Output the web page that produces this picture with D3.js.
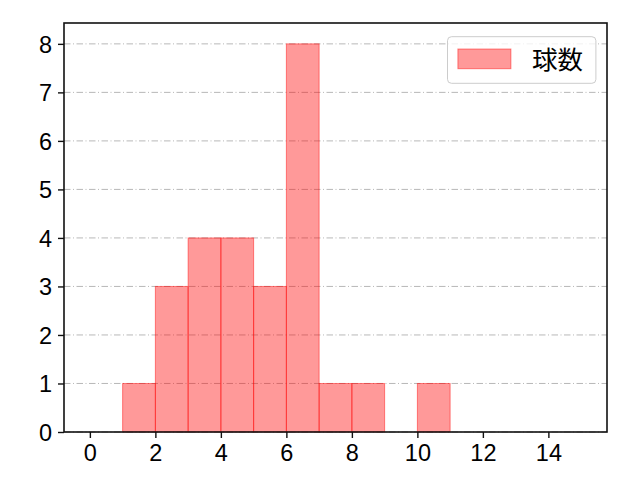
<!DOCTYPE html>
<html>
<head>
<meta charset="utf-8">
<script src="https://cdn.jsdelivr.net/npm/d3@7"></script>
<style>
  body { margin: 0; background: #fff; }
  text { font-family: "Liberation Sans", sans-serif; }
</style>
</head>
<body>
<svg id="chart" width="640" height="480"></svg>
<script>
// histogram bins (left edge, right edge) and counts
const binStarts = [1, 2, 3, 4, 5, 6, 7, 8, 10];
const binEnds = [2, 3, 4, 5, 6, 7, 8, 9, 11];
const counts = [1, 3, 4, 4, 3, 8, 1, 1, 1];
const xTicks = [0, 2, 4, 6, 8, 10, 12, 14];
const yTicks = [0, 1, 2, 3, 4, 5, 6, 7, 8];
const seriesName = "球数";

const margin = { top: 23, right: 33, bottom: 48, left: 64 };
const width = 640 - margin.left - margin.right;
const height = 480 - margin.top - margin.bottom;

const svg = d3.select("#chart");
const g = svg.append("g").attr("transform", "translate(" + margin.left + "," + margin.top + ")");

const x = d3.scaleLinear().domain([-0.79, 15.79]).range([0, width]);
const y = d3.scaleLinear().domain([0, 8.43]).range([height, 0]);

// grid
g.append("g").selectAll("line")
  .data(yTicks)
  .enter().append("line")
  .attr("x1", 0).attr("x2", width)
  .attr("y1", d => y(d)).attr("y2", d => y(d))
  .attr("stroke", "#b0b0b0")
  .attr("stroke-width", 0.9)
  .attr("stroke-dasharray", "6.5,2.5,1,2.5");

// bars
const bins = counts.map((c, i) => ({ x0: binStarts[i], x1: binEnds[i], n: c }));
g.selectAll(".bar")
  .data(bins)
  .enter().append("rect")
  .attr("class", "bar")
  .attr("x", d => x(d.x0))
  .attr("y", d => y(d.n))
  .attr("width", d => x(d.x1) - x(d.x0))
  .attr("height", d => height - y(d.n))
  .attr("fill", "red")
  .attr("fill-opacity", 0.4)
  .attr("stroke", "red")
  .attr("stroke-opacity", 0.45)
  .attr("stroke-width", 1);

// axes
const xAxis = g.append("g")
  .attr("transform", "translate(0," + height + ")")
  .call(d3.axisBottom(x).tickValues(xTicks).tickSize(6).tickPadding(7));
const yAxis = g.append("g")
  .call(d3.axisLeft(y).tickValues(yTicks).tickSize(6).tickPadding(6));
[xAxis, yAxis].forEach(a => {
  a.select(".domain").remove();
  a.selectAll("line").attr("stroke", "#111").attr("stroke-width", 1.4);
  a.selectAll("text")
    .style("font-size", "23.5px")
    .style("fill", "#000")
    .style("font-family", "'Liberation Sans', Arial, sans-serif");
});
yAxis.selectAll("text").attr("dy", "0.36em");
xAxis.selectAll("text").attr("dy", "0.7em");

// frame
g.append("rect")
  .attr("width", width).attr("height", height)
  .attr("fill", "none").attr("stroke", "#111").attr("stroke-width", 1.6);

// legend
const lg = g.append("g").attr("transform", "translate(383.5,13.7)");
lg.append("rect")
  .attr("width", 148.4).attr("height", 46.6)
  .attr("rx", 4)
  .attr("fill", "#fff").attr("fill-opacity", 0.8)
  .attr("stroke", "#ccc");
lg.append("rect")
  .attr("x", 10.4).attr("y", 12.3).attr("width", 53).attr("height", 19.7)
  .attr("fill", "red").attr("fill-opacity", 0.4)
  .attr("stroke", "red").attr("stroke-opacity", 0.45);
lg.append("text")
  .attr("x", 84.5).attr("y", 32.5)
  .style("font-size", "25.5px")
  .style("font-family", "'Noto Sans CJK JP', sans-serif")
  .text(seriesName);
</script>
</body>
</html>
